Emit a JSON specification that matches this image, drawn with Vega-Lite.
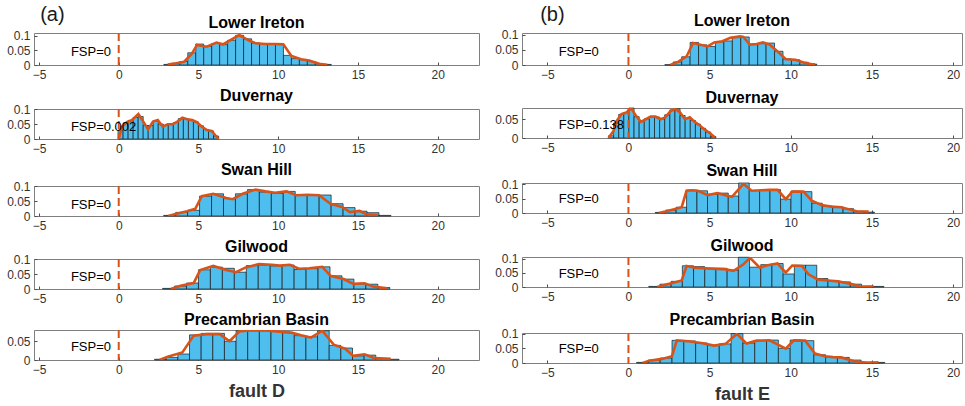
{
  "$schema": "https://vega.github.io/schema/vega-lite/v6.json",
  "background": "white",
  "padding": {"left": 6, "top": 5, "right": 0, "bottom": 0},
  "config": {
    "font": "Liberation Sans",
    "view": {"stroke": "#7f7f7f", "strokeWidth": 1},
    "axis": {"grid": false, "domain": false, "ticks": true, "tickSize": -3, "tickColor": "#4d4d4d", "labelPadding": 7, "labelFontSize": 12, "labelColor": "#333333", "labelFlush": false, "labelOverlap": false, "titleFontSize": 18, "titleFontWeight": "bold", "titleColor": "#333333", "titlePadding": 7},
    "title": {"fontSize": 16, "fontWeight": "bold", "color": "#000000", "offset": 0, "anchor": "middle", "frame": "group"}
  },
  "datasets": {
    "bins": [
      {"fault": "D", "unit": "Lower Ireton", "lo": 2.83, "hi": 3.33, "p": 0.002},
      {"fault": "D", "unit": "Lower Ireton", "lo": 3.33, "hi": 3.83, "p": 0.006},
      {"fault": "D", "unit": "Lower Ireton", "lo": 3.83, "hi": 4.33, "p": 0.012},
      {"fault": "D", "unit": "Lower Ireton", "lo": 4.33, "hi": 4.83, "p": 0.042},
      {"fault": "D", "unit": "Lower Ireton", "lo": 4.83, "hi": 5.33, "p": 0.072},
      {"fault": "D", "unit": "Lower Ireton", "lo": 5.33, "hi": 5.83, "p": 0.064},
      {"fault": "D", "unit": "Lower Ireton", "lo": 5.83, "hi": 6.33, "p": 0.074},
      {"fault": "D", "unit": "Lower Ireton", "lo": 6.33, "hi": 6.83, "p": 0.07},
      {"fault": "D", "unit": "Lower Ireton", "lo": 6.83, "hi": 7.33, "p": 0.085},
      {"fault": "D", "unit": "Lower Ireton", "lo": 7.33, "hi": 7.83, "p": 0.102},
      {"fault": "D", "unit": "Lower Ireton", "lo": 7.83, "hi": 8.33, "p": 0.09},
      {"fault": "D", "unit": "Lower Ireton", "lo": 8.33, "hi": 8.83, "p": 0.076},
      {"fault": "D", "unit": "Lower Ireton", "lo": 8.83, "hi": 9.33, "p": 0.073},
      {"fault": "D", "unit": "Lower Ireton", "lo": 9.33, "hi": 9.83, "p": 0.073},
      {"fault": "D", "unit": "Lower Ireton", "lo": 9.83, "hi": 10.33, "p": 0.072},
      {"fault": "D", "unit": "Lower Ireton", "lo": 10.33, "hi": 10.83, "p": 0.033},
      {"fault": "D", "unit": "Lower Ireton", "lo": 10.83, "hi": 11.33, "p": 0.022},
      {"fault": "D", "unit": "Lower Ireton", "lo": 11.33, "hi": 11.83, "p": 0.018},
      {"fault": "D", "unit": "Lower Ireton", "lo": 11.83, "hi": 12.33, "p": 0.012},
      {"fault": "D", "unit": "Lower Ireton", "lo": 12.33, "hi": 12.83, "p": 0.005},
      {"fault": "D", "unit": "Lower Ireton", "lo": 12.83, "hi": 13.33, "p": 0.002},

      {"fault": "D", "unit": "Duvernay", "lo": -0.04, "hi": 0.275, "p": 0.03},
      {"fault": "D", "unit": "Duvernay", "lo": 0.275, "hi": 0.59, "p": 0.053},
      {"fault": "D", "unit": "Duvernay", "lo": 0.59, "hi": 0.905, "p": 0.062},
      {"fault": "D", "unit": "Duvernay", "lo": 0.905, "hi": 1.22, "p": 0.072},
      {"fault": "D", "unit": "Duvernay", "lo": 1.22, "hi": 1.535, "p": 0.075},
      {"fault": "D", "unit": "Duvernay", "lo": 1.535, "hi": 1.85, "p": 0.045},
      {"fault": "D", "unit": "Duvernay", "lo": 1.85, "hi": 2.165, "p": 0.045},
      {"fault": "D", "unit": "Duvernay", "lo": 2.165, "hi": 2.48, "p": 0.06},
      {"fault": "D", "unit": "Duvernay", "lo": 2.48, "hi": 2.795, "p": 0.05},
      {"fault": "D", "unit": "Duvernay", "lo": 2.795, "hi": 3.11, "p": 0.045},
      {"fault": "D", "unit": "Duvernay", "lo": 3.11, "hi": 3.425, "p": 0.049},
      {"fault": "D", "unit": "Duvernay", "lo": 3.425, "hi": 3.74, "p": 0.055},
      {"fault": "D", "unit": "Duvernay", "lo": 3.74, "hi": 4.055, "p": 0.068},
      {"fault": "D", "unit": "Duvernay", "lo": 4.055, "hi": 4.37, "p": 0.068},
      {"fault": "D", "unit": "Duvernay", "lo": 4.37, "hi": 4.685, "p": 0.064},
      {"fault": "D", "unit": "Duvernay", "lo": 4.685, "hi": 5.0, "p": 0.057},
      {"fault": "D", "unit": "Duvernay", "lo": 5.0, "hi": 5.315, "p": 0.044},
      {"fault": "D", "unit": "Duvernay", "lo": 5.315, "hi": 5.63, "p": 0.032},
      {"fault": "D", "unit": "Duvernay", "lo": 5.63, "hi": 5.945, "p": 0.027},
      {"fault": "D", "unit": "Duvernay", "lo": 5.945, "hi": 6.26, "p": 0.01},

      {"fault": "D", "unit": "Swan Hill", "lo": 2.82, "hi": 3.57, "p": 0.002},
      {"fault": "D", "unit": "Swan Hill", "lo": 3.57, "hi": 4.32, "p": 0.012},
      {"fault": "D", "unit": "Swan Hill", "lo": 4.32, "hi": 5.07, "p": 0.019},
      {"fault": "D", "unit": "Swan Hill", "lo": 5.07, "hi": 5.82, "p": 0.066},
      {"fault": "D", "unit": "Swan Hill", "lo": 5.82, "hi": 6.57, "p": 0.074},
      {"fault": "D", "unit": "Swan Hill", "lo": 6.57, "hi": 7.32, "p": 0.058},
      {"fault": "D", "unit": "Swan Hill", "lo": 7.32, "hi": 8.07, "p": 0.074},
      {"fault": "D", "unit": "Swan Hill", "lo": 8.07, "hi": 8.82, "p": 0.088},
      {"fault": "D", "unit": "Swan Hill", "lo": 8.82, "hi": 9.57, "p": 0.08},
      {"fault": "D", "unit": "Swan Hill", "lo": 9.57, "hi": 10.32, "p": 0.075},
      {"fault": "D", "unit": "Swan Hill", "lo": 10.32, "hi": 11.07, "p": 0.082},
      {"fault": "D", "unit": "Swan Hill", "lo": 11.07, "hi": 11.82, "p": 0.069},
      {"fault": "D", "unit": "Swan Hill", "lo": 11.82, "hi": 12.57, "p": 0.071},
      {"fault": "D", "unit": "Swan Hill", "lo": 12.57, "hi": 13.32, "p": 0.07},
      {"fault": "D", "unit": "Swan Hill", "lo": 13.32, "hi": 14.07, "p": 0.041},
      {"fault": "D", "unit": "Swan Hill", "lo": 14.07, "hi": 14.82, "p": 0.028},
      {"fault": "D", "unit": "Swan Hill", "lo": 14.82, "hi": 15.57, "p": 0.016},
      {"fault": "D", "unit": "Swan Hill", "lo": 15.57, "hi": 16.32, "p": 0.011},
      {"fault": "D", "unit": "Swan Hill", "lo": 16.32, "hi": 17.07, "p": 0.002},

      {"fault": "D", "unit": "Gilwood", "lo": 2.75, "hi": 3.5, "p": 0.002},
      {"fault": "D", "unit": "Gilwood", "lo": 3.5, "hi": 4.25, "p": 0.01},
      {"fault": "D", "unit": "Gilwood", "lo": 4.25, "hi": 5.0, "p": 0.02},
      {"fault": "D", "unit": "Gilwood", "lo": 5.0, "hi": 5.75, "p": 0.064},
      {"fault": "D", "unit": "Gilwood", "lo": 5.75, "hi": 6.5, "p": 0.073},
      {"fault": "D", "unit": "Gilwood", "lo": 6.5, "hi": 7.25, "p": 0.069},
      {"fault": "D", "unit": "Gilwood", "lo": 7.25, "hi": 8.0, "p": 0.056},
      {"fault": "D", "unit": "Gilwood", "lo": 8.0, "hi": 8.75, "p": 0.078},
      {"fault": "D", "unit": "Gilwood", "lo": 8.75, "hi": 9.5, "p": 0.08},
      {"fault": "D", "unit": "Gilwood", "lo": 9.5, "hi": 10.25, "p": 0.077},
      {"fault": "D", "unit": "Gilwood", "lo": 10.25, "hi": 11.0, "p": 0.08},
      {"fault": "D", "unit": "Gilwood", "lo": 11.0, "hi": 11.75, "p": 0.065},
      {"fault": "D", "unit": "Gilwood", "lo": 11.75, "hi": 12.5, "p": 0.068},
      {"fault": "D", "unit": "Gilwood", "lo": 12.5, "hi": 13.25, "p": 0.074},
      {"fault": "D", "unit": "Gilwood", "lo": 13.25, "hi": 14.0, "p": 0.044},
      {"fault": "D", "unit": "Gilwood", "lo": 14.0, "hi": 14.75, "p": 0.033},
      {"fault": "D", "unit": "Gilwood", "lo": 14.75, "hi": 15.5, "p": 0.017},
      {"fault": "D", "unit": "Gilwood", "lo": 15.5, "hi": 16.25, "p": 0.016},
      {"fault": "D", "unit": "Gilwood", "lo": 16.25, "hi": 17.0, "p": 0.005},

      {"fault": "D", "unit": "Precambrian Basin", "lo": 2.25, "hi": 2.98, "p": 0.002},
      {"fault": "D", "unit": "Precambrian Basin", "lo": 2.98, "hi": 3.71, "p": 0.007},
      {"fault": "D", "unit": "Precambrian Basin", "lo": 3.71, "hi": 4.44, "p": 0.016},
      {"fault": "D", "unit": "Precambrian Basin", "lo": 4.44, "hi": 5.17, "p": 0.067},
      {"fault": "D", "unit": "Precambrian Basin", "lo": 5.17, "hi": 5.9, "p": 0.071},
      {"fault": "D", "unit": "Precambrian Basin", "lo": 5.9, "hi": 6.63, "p": 0.071},
      {"fault": "D", "unit": "Precambrian Basin", "lo": 6.63, "hi": 7.36, "p": 0.05},
      {"fault": "D", "unit": "Precambrian Basin", "lo": 7.36, "hi": 8.09, "p": 0.078},
      {"fault": "D", "unit": "Precambrian Basin", "lo": 8.09, "hi": 8.82, "p": 0.078},
      {"fault": "D", "unit": "Precambrian Basin", "lo": 8.82, "hi": 9.55, "p": 0.078},
      {"fault": "D", "unit": "Precambrian Basin", "lo": 9.55, "hi": 10.28, "p": 0.076},
      {"fault": "D", "unit": "Precambrian Basin", "lo": 10.28, "hi": 11.01, "p": 0.073},
      {"fault": "D", "unit": "Precambrian Basin", "lo": 11.01, "hi": 11.74, "p": 0.065},
      {"fault": "D", "unit": "Precambrian Basin", "lo": 11.74, "hi": 12.47, "p": 0.062},
      {"fault": "D", "unit": "Precambrian Basin", "lo": 12.47, "hi": 13.2, "p": 0.078},
      {"fault": "D", "unit": "Precambrian Basin", "lo": 13.2, "hi": 13.93, "p": 0.039},
      {"fault": "D", "unit": "Precambrian Basin", "lo": 13.93, "hi": 14.66, "p": 0.032},
      {"fault": "D", "unit": "Precambrian Basin", "lo": 14.66, "hi": 15.39, "p": 0.011},
      {"fault": "D", "unit": "Precambrian Basin", "lo": 15.39, "hi": 16.12, "p": 0.013},
      {"fault": "D", "unit": "Precambrian Basin", "lo": 16.12, "hi": 16.85, "p": 0.004},
      {"fault": "D", "unit": "Precambrian Basin", "lo": 16.85, "hi": 17.58, "p": 0.002},

      {"fault": "E", "unit": "Lower Ireton", "lo": 2.24, "hi": 2.76, "p": 0.001},
      {"fault": "E", "unit": "Lower Ireton", "lo": 2.76, "hi": 3.28, "p": 0.01},
      {"fault": "E", "unit": "Lower Ireton", "lo": 3.28, "hi": 3.8, "p": 0.027},
      {"fault": "E", "unit": "Lower Ireton", "lo": 3.8, "hi": 4.32, "p": 0.074},
      {"fault": "E", "unit": "Lower Ireton", "lo": 4.32, "hi": 4.84, "p": 0.066},
      {"fault": "E", "unit": "Lower Ireton", "lo": 4.84, "hi": 5.36, "p": 0.061},
      {"fault": "E", "unit": "Lower Ireton", "lo": 5.36, "hi": 5.88, "p": 0.076},
      {"fault": "E", "unit": "Lower Ireton", "lo": 5.88, "hi": 6.4, "p": 0.079},
      {"fault": "E", "unit": "Lower Ireton", "lo": 6.4, "hi": 6.92, "p": 0.09},
      {"fault": "E", "unit": "Lower Ireton", "lo": 6.92, "hi": 7.44, "p": 0.092},
      {"fault": "E", "unit": "Lower Ireton", "lo": 7.44, "hi": 7.96, "p": 0.067},
      {"fault": "E", "unit": "Lower Ireton", "lo": 7.96, "hi": 8.48, "p": 0.07},
      {"fault": "E", "unit": "Lower Ireton", "lo": 8.48, "hi": 9.0, "p": 0.072},
      {"fault": "E", "unit": "Lower Ireton", "lo": 9.0, "hi": 9.52, "p": 0.045},
      {"fault": "E", "unit": "Lower Ireton", "lo": 9.52, "hi": 10.04, "p": 0.02},
      {"fault": "E", "unit": "Lower Ireton", "lo": 10.04, "hi": 10.56, "p": 0.017},
      {"fault": "E", "unit": "Lower Ireton", "lo": 10.56, "hi": 11.08, "p": 0.009},
      {"fault": "E", "unit": "Lower Ireton", "lo": 11.08, "hi": 11.6, "p": 0.003},

      {"fault": "E", "unit": "Duvernay", "lo": -1.23, "hi": -0.915, "p": 0.006},
      {"fault": "E", "unit": "Duvernay", "lo": -0.915, "hi": -0.6, "p": 0.04},
      {"fault": "E", "unit": "Duvernay", "lo": -0.6, "hi": -0.285, "p": 0.063},
      {"fault": "E", "unit": "Duvernay", "lo": -0.285, "hi": 0.03, "p": 0.068},
      {"fault": "E", "unit": "Duvernay", "lo": 0.03, "hi": 0.345, "p": 0.08},
      {"fault": "E", "unit": "Duvernay", "lo": 0.345, "hi": 0.66, "p": 0.057},
      {"fault": "E", "unit": "Duvernay", "lo": 0.66, "hi": 0.975, "p": 0.044},
      {"fault": "E", "unit": "Duvernay", "lo": 0.975, "hi": 1.29, "p": 0.051},
      {"fault": "E", "unit": "Duvernay", "lo": 1.29, "hi": 1.605, "p": 0.057},
      {"fault": "E", "unit": "Duvernay", "lo": 1.605, "hi": 1.92, "p": 0.056},
      {"fault": "E", "unit": "Duvernay", "lo": 1.92, "hi": 2.235, "p": 0.051},
      {"fault": "E", "unit": "Duvernay", "lo": 2.235, "hi": 2.55, "p": 0.062},
      {"fault": "E", "unit": "Duvernay", "lo": 2.55, "hi": 2.865, "p": 0.075},
      {"fault": "E", "unit": "Duvernay", "lo": 2.865, "hi": 3.18, "p": 0.078},
      {"fault": "E", "unit": "Duvernay", "lo": 3.18, "hi": 3.495, "p": 0.06},
      {"fault": "E", "unit": "Duvernay", "lo": 3.495, "hi": 3.81, "p": 0.052},
      {"fault": "E", "unit": "Duvernay", "lo": 3.81, "hi": 4.125, "p": 0.047},
      {"fault": "E", "unit": "Duvernay", "lo": 4.125, "hi": 4.44, "p": 0.037},
      {"fault": "E", "unit": "Duvernay", "lo": 4.44, "hi": 4.755, "p": 0.026},
      {"fault": "E", "unit": "Duvernay", "lo": 4.755, "hi": 5.07, "p": 0.016},
      {"fault": "E", "unit": "Duvernay", "lo": 5.07, "hi": 5.385, "p": 0.004},

      {"fault": "E", "unit": "Swan Hill", "lo": 1.65, "hi": 2.29, "p": 0.002},
      {"fault": "E", "unit": "Swan Hill", "lo": 2.29, "hi": 2.94, "p": 0.01},
      {"fault": "E", "unit": "Swan Hill", "lo": 2.94, "hi": 3.58, "p": 0.02},
      {"fault": "E", "unit": "Swan Hill", "lo": 3.58, "hi": 4.22, "p": 0.079},
      {"fault": "E", "unit": "Swan Hill", "lo": 4.22, "hi": 4.87, "p": 0.077},
      {"fault": "E", "unit": "Swan Hill", "lo": 4.87, "hi": 5.51, "p": 0.065},
      {"fault": "E", "unit": "Swan Hill", "lo": 5.51, "hi": 6.15, "p": 0.069},
      {"fault": "E", "unit": "Swan Hill", "lo": 6.15, "hi": 6.79, "p": 0.059},
      {"fault": "E", "unit": "Swan Hill", "lo": 6.79, "hi": 7.44, "p": 0.104},
      {"fault": "E", "unit": "Swan Hill", "lo": 7.44, "hi": 8.08, "p": 0.078},
      {"fault": "E", "unit": "Swan Hill", "lo": 8.08, "hi": 8.72, "p": 0.08},
      {"fault": "E", "unit": "Swan Hill", "lo": 8.72, "hi": 9.37, "p": 0.081},
      {"fault": "E", "unit": "Swan Hill", "lo": 9.37, "hi": 10.01, "p": 0.048},
      {"fault": "E", "unit": "Swan Hill", "lo": 10.01, "hi": 10.65, "p": 0.076},
      {"fault": "E", "unit": "Swan Hill", "lo": 10.65, "hi": 11.3, "p": 0.074},
      {"fault": "E", "unit": "Swan Hill", "lo": 11.3, "hi": 11.94, "p": 0.034},
      {"fault": "E", "unit": "Swan Hill", "lo": 11.94, "hi": 12.58, "p": 0.024},
      {"fault": "E", "unit": "Swan Hill", "lo": 12.58, "hi": 13.22, "p": 0.021},
      {"fault": "E", "unit": "Swan Hill", "lo": 13.22, "hi": 13.87, "p": 0.015},
      {"fault": "E", "unit": "Swan Hill", "lo": 13.87, "hi": 14.51, "p": 0.006},
      {"fault": "E", "unit": "Swan Hill", "lo": 14.51, "hi": 15.15, "p": 0.003},

      {"fault": "E", "unit": "Gilwood", "lo": 1.25, "hi": 1.94, "p": 0.002},
      {"fault": "E", "unit": "Gilwood", "lo": 1.94, "hi": 2.63, "p": 0.01},
      {"fault": "E", "unit": "Gilwood", "lo": 2.63, "hi": 3.32, "p": 0.02},
      {"fault": "E", "unit": "Gilwood", "lo": 3.32, "hi": 4.01, "p": 0.075},
      {"fault": "E", "unit": "Gilwood", "lo": 4.01, "hi": 4.7, "p": 0.072},
      {"fault": "E", "unit": "Gilwood", "lo": 4.7, "hi": 5.39, "p": 0.066},
      {"fault": "E", "unit": "Gilwood", "lo": 5.39, "hi": 6.08, "p": 0.066},
      {"fault": "E", "unit": "Gilwood", "lo": 6.08, "hi": 6.77, "p": 0.06},
      {"fault": "E", "unit": "Gilwood", "lo": 6.77, "hi": 7.46, "p": 0.105},
      {"fault": "E", "unit": "Gilwood", "lo": 7.46, "hi": 8.15, "p": 0.07},
      {"fault": "E", "unit": "Gilwood", "lo": 8.15, "hi": 8.84, "p": 0.079},
      {"fault": "E", "unit": "Gilwood", "lo": 8.84, "hi": 9.53, "p": 0.083},
      {"fault": "E", "unit": "Gilwood", "lo": 9.53, "hi": 10.22, "p": 0.046},
      {"fault": "E", "unit": "Gilwood", "lo": 10.22, "hi": 10.91, "p": 0.077},
      {"fault": "E", "unit": "Gilwood", "lo": 10.91, "hi": 11.6, "p": 0.077},
      {"fault": "E", "unit": "Gilwood", "lo": 11.6, "hi": 12.29, "p": 0.03},
      {"fault": "E", "unit": "Gilwood", "lo": 12.29, "hi": 12.98, "p": 0.022},
      {"fault": "E", "unit": "Gilwood", "lo": 12.98, "hi": 13.67, "p": 0.018},
      {"fault": "E", "unit": "Gilwood", "lo": 13.67, "hi": 14.36, "p": 0.01},
      {"fault": "E", "unit": "Gilwood", "lo": 14.36, "hi": 15.05, "p": 0.003},
      {"fault": "E", "unit": "Gilwood", "lo": 15.05, "hi": 15.74, "p": 0.002},

      {"fault": "E", "unit": "Precambrian Basin", "lo": 0.5, "hi": 1.228, "p": 0.002},
      {"fault": "E", "unit": "Precambrian Basin", "lo": 1.228, "hi": 1.956, "p": 0.01},
      {"fault": "E", "unit": "Precambrian Basin", "lo": 1.956, "hi": 2.684, "p": 0.017},
      {"fault": "E", "unit": "Precambrian Basin", "lo": 2.684, "hi": 3.412, "p": 0.077},
      {"fault": "E", "unit": "Precambrian Basin", "lo": 3.412, "hi": 4.14, "p": 0.075},
      {"fault": "E", "unit": "Precambrian Basin", "lo": 4.14, "hi": 4.868, "p": 0.068},
      {"fault": "E", "unit": "Precambrian Basin", "lo": 4.868, "hi": 5.596, "p": 0.06},
      {"fault": "E", "unit": "Precambrian Basin", "lo": 5.596, "hi": 6.324, "p": 0.065},
      {"fault": "E", "unit": "Precambrian Basin", "lo": 6.324, "hi": 7.052, "p": 0.1},
      {"fault": "E", "unit": "Precambrian Basin", "lo": 7.052, "hi": 7.78, "p": 0.068},
      {"fault": "E", "unit": "Precambrian Basin", "lo": 7.78, "hi": 8.508, "p": 0.076},
      {"fault": "E", "unit": "Precambrian Basin", "lo": 8.508, "hi": 9.236, "p": 0.078},
      {"fault": "E", "unit": "Precambrian Basin", "lo": 9.236, "hi": 9.964, "p": 0.05},
      {"fault": "E", "unit": "Precambrian Basin", "lo": 9.964, "hi": 10.692, "p": 0.078},
      {"fault": "E", "unit": "Precambrian Basin", "lo": 10.692, "hi": 11.42, "p": 0.076},
      {"fault": "E", "unit": "Precambrian Basin", "lo": 11.42, "hi": 12.148, "p": 0.028},
      {"fault": "E", "unit": "Precambrian Basin", "lo": 12.148, "hi": 12.876, "p": 0.021},
      {"fault": "E", "unit": "Precambrian Basin", "lo": 12.876, "hi": 13.604, "p": 0.019},
      {"fault": "E", "unit": "Precambrian Basin", "lo": 13.604, "hi": 14.332, "p": 0.01},
      {"fault": "E", "unit": "Precambrian Basin", "lo": 14.332, "hi": 15.06, "p": 0.003},
      {"fault": "E", "unit": "Precambrian Basin", "lo": 15.06, "hi": 15.788, "p": 0.002}
    ],
    "curve": [
      {"fault": "D", "unit": "Lower Ireton", "x": 3.07, "p": 0.002},
      {"fault": "D", "unit": "Lower Ireton", "x": 3.6, "p": 0.006},
      {"fault": "D", "unit": "Lower Ireton", "x": 4.09, "p": 0.011},
      {"fault": "D", "unit": "Lower Ireton", "x": 4.6, "p": 0.04},
      {"fault": "D", "unit": "Lower Ireton", "x": 4.91, "p": 0.069},
      {"fault": "D", "unit": "Lower Ireton", "x": 5.52, "p": 0.063},
      {"fault": "D", "unit": "Lower Ireton", "x": 6.13, "p": 0.077},
      {"fault": "D", "unit": "Lower Ireton", "x": 6.54, "p": 0.071},
      {"fault": "D", "unit": "Lower Ireton", "x": 6.95, "p": 0.084},
      {"fault": "D", "unit": "Lower Ireton", "x": 7.56, "p": 0.103},
      {"fault": "D", "unit": "Lower Ireton", "x": 8.17, "p": 0.084},
      {"fault": "D", "unit": "Lower Ireton", "x": 8.58, "p": 0.075},
      {"fault": "D", "unit": "Lower Ireton", "x": 9.2, "p": 0.072},
      {"fault": "D", "unit": "Lower Ireton", "x": 9.81, "p": 0.072},
      {"fault": "D", "unit": "Lower Ireton", "x": 10.32, "p": 0.071},
      {"fault": "D", "unit": "Lower Ireton", "x": 10.83, "p": 0.031},
      {"fault": "D", "unit": "Lower Ireton", "x": 11.44, "p": 0.02},
      {"fault": "D", "unit": "Lower Ireton", "x": 11.95, "p": 0.015},
      {"fault": "D", "unit": "Lower Ireton", "x": 12.67, "p": 0.003},
      {"fault": "D", "unit": "Lower Ireton", "x": 13.08, "p": 0.001},

      {"fault": "D", "unit": "Duvernay", "x": 0.0, "p": 0.0},
      {"fault": "D", "unit": "Duvernay", "x": 0.2, "p": 0.041},
      {"fault": "D", "unit": "Duvernay", "x": 0.51, "p": 0.056},
      {"fault": "D", "unit": "Duvernay", "x": 0.82, "p": 0.063},
      {"fault": "D", "unit": "Duvernay", "x": 1.23, "p": 0.083},
      {"fault": "D", "unit": "Duvernay", "x": 1.54, "p": 0.058},
      {"fault": "D", "unit": "Duvernay", "x": 1.84, "p": 0.032},
      {"fault": "D", "unit": "Duvernay", "x": 2.15, "p": 0.058},
      {"fault": "D", "unit": "Duvernay", "x": 2.45, "p": 0.063},
      {"fault": "D", "unit": "Duvernay", "x": 2.76, "p": 0.041},
      {"fault": "D", "unit": "Duvernay", "x": 3.07, "p": 0.049},
      {"fault": "D", "unit": "Duvernay", "x": 3.37, "p": 0.049},
      {"fault": "D", "unit": "Duvernay", "x": 3.68, "p": 0.058},
      {"fault": "D", "unit": "Duvernay", "x": 3.99, "p": 0.071},
      {"fault": "D", "unit": "Duvernay", "x": 4.29, "p": 0.066},
      {"fault": "D", "unit": "Duvernay", "x": 4.6, "p": 0.063},
      {"fault": "D", "unit": "Duvernay", "x": 4.9, "p": 0.056},
      {"fault": "D", "unit": "Duvernay", "x": 5.21, "p": 0.041},
      {"fault": "D", "unit": "Duvernay", "x": 5.52, "p": 0.03},
      {"fault": "D", "unit": "Duvernay", "x": 5.82, "p": 0.027},
      {"fault": "D", "unit": "Duvernay", "x": 6.13, "p": 0.008},
      {"fault": "D", "unit": "Duvernay", "x": 6.27, "p": 0.0},

      {"fault": "D", "unit": "Swan Hill", "x": 3.1, "p": 0.0},
      {"fault": "D", "unit": "Swan Hill", "x": 3.68, "p": 0.008},
      {"fault": "D", "unit": "Swan Hill", "x": 4.29, "p": 0.016},
      {"fault": "D", "unit": "Swan Hill", "x": 4.8, "p": 0.024},
      {"fault": "D", "unit": "Swan Hill", "x": 5.21, "p": 0.066},
      {"fault": "D", "unit": "Swan Hill", "x": 5.93, "p": 0.074},
      {"fault": "D", "unit": "Swan Hill", "x": 6.74, "p": 0.06},
      {"fault": "D", "unit": "Swan Hill", "x": 7.15, "p": 0.056},
      {"fault": "D", "unit": "Swan Hill", "x": 7.77, "p": 0.074},
      {"fault": "D", "unit": "Swan Hill", "x": 8.58, "p": 0.088},
      {"fault": "D", "unit": "Swan Hill", "x": 9.2, "p": 0.082},
      {"fault": "D", "unit": "Swan Hill", "x": 9.8, "p": 0.077},
      {"fault": "D", "unit": "Swan Hill", "x": 10.52, "p": 0.082},
      {"fault": "D", "unit": "Swan Hill", "x": 11.14, "p": 0.069},
      {"fault": "D", "unit": "Swan Hill", "x": 11.85, "p": 0.071},
      {"fault": "D", "unit": "Swan Hill", "x": 12.57, "p": 0.069},
      {"fault": "D", "unit": "Swan Hill", "x": 13.28, "p": 0.041},
      {"fault": "D", "unit": "Swan Hill", "x": 14.0, "p": 0.03},
      {"fault": "D", "unit": "Swan Hill", "x": 14.5, "p": 0.013},
      {"fault": "D", "unit": "Swan Hill", "x": 15.1, "p": 0.017},
      {"fault": "D", "unit": "Swan Hill", "x": 15.53, "p": 0.006},
      {"fault": "D", "unit": "Swan Hill", "x": 16.24, "p": 0.002},

      {"fault": "D", "unit": "Gilwood", "x": 3.27, "p": 0.0},
      {"fault": "D", "unit": "Gilwood", "x": 3.88, "p": 0.011},
      {"fault": "D", "unit": "Gilwood", "x": 4.7, "p": 0.02},
      {"fault": "D", "unit": "Gilwood", "x": 5.11, "p": 0.063},
      {"fault": "D", "unit": "Gilwood", "x": 5.93, "p": 0.077},
      {"fault": "D", "unit": "Gilwood", "x": 6.74, "p": 0.063},
      {"fault": "D", "unit": "Gilwood", "x": 7.36, "p": 0.056},
      {"fault": "D", "unit": "Gilwood", "x": 7.97, "p": 0.072},
      {"fault": "D", "unit": "Gilwood", "x": 8.79, "p": 0.083},
      {"fault": "D", "unit": "Gilwood", "x": 9.6, "p": 0.081},
      {"fault": "D", "unit": "Gilwood", "x": 10.1, "p": 0.078},
      {"fault": "D", "unit": "Gilwood", "x": 10.73, "p": 0.081},
      {"fault": "D", "unit": "Gilwood", "x": 11.34, "p": 0.067},
      {"fault": "D", "unit": "Gilwood", "x": 11.95, "p": 0.069},
      {"fault": "D", "unit": "Gilwood", "x": 12.77, "p": 0.074},
      {"fault": "D", "unit": "Gilwood", "x": 13.28, "p": 0.044},
      {"fault": "D", "unit": "Gilwood", "x": 14.1, "p": 0.033},
      {"fault": "D", "unit": "Gilwood", "x": 14.71, "p": 0.017},
      {"fault": "D", "unit": "Gilwood", "x": 15.42, "p": 0.019},
      {"fault": "D", "unit": "Gilwood", "x": 15.94, "p": 0.008},
      {"fault": "D", "unit": "Gilwood", "x": 16.85, "p": 0.002},

      {"fault": "D", "unit": "Precambrian Basin", "x": 2.56, "p": 0.0},
      {"fault": "D", "unit": "Precambrian Basin", "x": 3.07, "p": 0.009},
      {"fault": "D", "unit": "Precambrian Basin", "x": 3.99, "p": 0.02},
      {"fault": "D", "unit": "Precambrian Basin", "x": 4.7, "p": 0.065},
      {"fault": "D", "unit": "Precambrian Basin", "x": 5.52, "p": 0.069},
      {"fault": "D", "unit": "Precambrian Basin", "x": 6.34, "p": 0.069},
      {"fault": "D", "unit": "Precambrian Basin", "x": 6.95, "p": 0.05},
      {"fault": "D", "unit": "Precambrian Basin", "x": 7.56, "p": 0.076},
      {"fault": "D", "unit": "Precambrian Basin", "x": 8.17, "p": 0.079},
      {"fault": "D", "unit": "Precambrian Basin", "x": 9.2, "p": 0.079},
      {"fault": "D", "unit": "Precambrian Basin", "x": 10.22, "p": 0.075},
      {"fault": "D", "unit": "Precambrian Basin", "x": 10.83, "p": 0.073},
      {"fault": "D", "unit": "Precambrian Basin", "x": 11.44, "p": 0.066},
      {"fault": "D", "unit": "Precambrian Basin", "x": 12.05, "p": 0.06},
      {"fault": "D", "unit": "Precambrian Basin", "x": 12.77, "p": 0.078},
      {"fault": "D", "unit": "Precambrian Basin", "x": 13.48, "p": 0.041},
      {"fault": "D", "unit": "Precambrian Basin", "x": 14.2, "p": 0.03},
      {"fault": "D", "unit": "Precambrian Basin", "x": 14.71, "p": 0.011},
      {"fault": "D", "unit": "Precambrian Basin", "x": 15.42, "p": 0.015},
      {"fault": "D", "unit": "Precambrian Basin", "x": 16.04, "p": 0.005},
      {"fault": "D", "unit": "Precambrian Basin", "x": 17.06, "p": 0.003},

      {"fault": "E", "unit": "Lower Ireton", "x": 2.58, "p": 0.0},
      {"fault": "E", "unit": "Lower Ireton", "x": 3.08, "p": 0.011},
      {"fault": "E", "unit": "Lower Ireton", "x": 3.58, "p": 0.028},
      {"fault": "E", "unit": "Lower Ireton", "x": 3.98, "p": 0.072},
      {"fault": "E", "unit": "Lower Ireton", "x": 4.38, "p": 0.067},
      {"fault": "E", "unit": "Lower Ireton", "x": 4.88, "p": 0.061},
      {"fault": "E", "unit": "Lower Ireton", "x": 5.28, "p": 0.074},
      {"fault": "E", "unit": "Lower Ireton", "x": 5.78, "p": 0.078},
      {"fault": "E", "unit": "Lower Ireton", "x": 6.28, "p": 0.089},
      {"fault": "E", "unit": "Lower Ireton", "x": 6.88, "p": 0.094},
      {"fault": "E", "unit": "Lower Ireton", "x": 7.08, "p": 0.092},
      {"fault": "E", "unit": "Lower Ireton", "x": 7.48, "p": 0.067},
      {"fault": "E", "unit": "Lower Ireton", "x": 7.89, "p": 0.069},
      {"fault": "E", "unit": "Lower Ireton", "x": 8.29, "p": 0.074},
      {"fault": "E", "unit": "Lower Ireton", "x": 8.69, "p": 0.067},
      {"fault": "E", "unit": "Lower Ireton", "x": 9.19, "p": 0.044},
      {"fault": "E", "unit": "Lower Ireton", "x": 9.69, "p": 0.019},
      {"fault": "E", "unit": "Lower Ireton", "x": 10.29, "p": 0.017},
      {"fault": "E", "unit": "Lower Ireton", "x": 10.79, "p": 0.008},
      {"fault": "E", "unit": "Lower Ireton", "x": 11.29, "p": 0.002},
      {"fault": "E", "unit": "Lower Ireton", "x": 11.49, "p": 0.002},

      {"fault": "E", "unit": "Duvernay", "x": -1.23, "p": 0.0},
      {"fault": "E", "unit": "Duvernay", "x": -0.93, "p": 0.018},
      {"fault": "E", "unit": "Duvernay", "x": -0.73, "p": 0.045},
      {"fault": "E", "unit": "Duvernay", "x": -0.43, "p": 0.064},
      {"fault": "E", "unit": "Duvernay", "x": -0.13, "p": 0.068},
      {"fault": "E", "unit": "Duvernay", "x": 0.17, "p": 0.079},
      {"fault": "E", "unit": "Duvernay", "x": 0.47, "p": 0.059},
      {"fault": "E", "unit": "Duvernay", "x": 0.77, "p": 0.043},
      {"fault": "E", "unit": "Duvernay", "x": 1.07, "p": 0.05},
      {"fault": "E", "unit": "Duvernay", "x": 1.37, "p": 0.057},
      {"fault": "E", "unit": "Duvernay", "x": 1.67, "p": 0.057},
      {"fault": "E", "unit": "Duvernay", "x": 1.97, "p": 0.05},
      {"fault": "E", "unit": "Duvernay", "x": 2.27, "p": 0.055},
      {"fault": "E", "unit": "Duvernay", "x": 2.58, "p": 0.071},
      {"fault": "E", "unit": "Duvernay", "x": 2.88, "p": 0.078},
      {"fault": "E", "unit": "Duvernay", "x": 3.18, "p": 0.068},
      {"fault": "E", "unit": "Duvernay", "x": 3.48, "p": 0.05},
      {"fault": "E", "unit": "Duvernay", "x": 3.78, "p": 0.055},
      {"fault": "E", "unit": "Duvernay", "x": 4.08, "p": 0.043},
      {"fault": "E", "unit": "Duvernay", "x": 4.38, "p": 0.034},
      {"fault": "E", "unit": "Duvernay", "x": 4.68, "p": 0.023},
      {"fault": "E", "unit": "Duvernay", "x": 4.98, "p": 0.014},
      {"fault": "E", "unit": "Duvernay", "x": 5.32, "p": 0.002},

      {"fault": "E", "unit": "Swan Hill", "x": 1.87, "p": 0.0},
      {"fault": "E", "unit": "Swan Hill", "x": 2.27, "p": 0.005},
      {"fault": "E", "unit": "Swan Hill", "x": 2.88, "p": 0.014},
      {"fault": "E", "unit": "Swan Hill", "x": 3.28, "p": 0.02},
      {"fault": "E", "unit": "Swan Hill", "x": 3.58, "p": 0.077},
      {"fault": "E", "unit": "Swan Hill", "x": 3.88, "p": 0.079},
      {"fault": "E", "unit": "Swan Hill", "x": 4.28, "p": 0.077},
      {"fault": "E", "unit": "Swan Hill", "x": 4.88, "p": 0.062},
      {"fault": "E", "unit": "Swan Hill", "x": 5.48, "p": 0.069},
      {"fault": "E", "unit": "Swan Hill", "x": 6.08, "p": 0.06},
      {"fault": "E", "unit": "Swan Hill", "x": 6.38, "p": 0.056},
      {"fault": "E", "unit": "Swan Hill", "x": 7.08, "p": 0.101},
      {"fault": "E", "unit": "Swan Hill", "x": 7.59, "p": 0.077},
      {"fault": "E", "unit": "Swan Hill", "x": 8.19, "p": 0.079},
      {"fault": "E", "unit": "Swan Hill", "x": 8.69, "p": 0.08},
      {"fault": "E", "unit": "Swan Hill", "x": 9.19, "p": 0.08},
      {"fault": "E", "unit": "Swan Hill", "x": 9.69, "p": 0.048},
      {"fault": "E", "unit": "Swan Hill", "x": 10.09, "p": 0.074},
      {"fault": "E", "unit": "Swan Hill", "x": 10.79, "p": 0.074},
      {"fault": "E", "unit": "Swan Hill", "x": 11.29, "p": 0.043},
      {"fault": "E", "unit": "Swan Hill", "x": 11.89, "p": 0.028},
      {"fault": "E", "unit": "Swan Hill", "x": 12.49, "p": 0.022},
      {"fault": "E", "unit": "Swan Hill", "x": 13.1, "p": 0.02},
      {"fault": "E", "unit": "Swan Hill", "x": 13.5, "p": 0.014},
      {"fault": "E", "unit": "Swan Hill", "x": 14.1, "p": 0.005},
      {"fault": "E", "unit": "Swan Hill", "x": 14.8, "p": 0.005},

      {"fault": "E", "unit": "Gilwood", "x": 1.77, "p": 0.0},
      {"fault": "E", "unit": "Gilwood", "x": 2.27, "p": 0.008},
      {"fault": "E", "unit": "Gilwood", "x": 2.88, "p": 0.017},
      {"fault": "E", "unit": "Gilwood", "x": 3.28, "p": 0.023},
      {"fault": "E", "unit": "Gilwood", "x": 3.58, "p": 0.074},
      {"fault": "E", "unit": "Gilwood", "x": 4.08, "p": 0.068},
      {"fault": "E", "unit": "Gilwood", "x": 5.08, "p": 0.065},
      {"fault": "E", "unit": "Gilwood", "x": 5.88, "p": 0.063},
      {"fault": "E", "unit": "Gilwood", "x": 6.48, "p": 0.057},
      {"fault": "E", "unit": "Gilwood", "x": 7.08, "p": 0.08},
      {"fault": "E", "unit": "Gilwood", "x": 7.49, "p": 0.103},
      {"fault": "E", "unit": "Gilwood", "x": 8.09, "p": 0.068},
      {"fault": "E", "unit": "Gilwood", "x": 8.49, "p": 0.076},
      {"fault": "E", "unit": "Gilwood", "x": 9.19, "p": 0.083},
      {"fault": "E", "unit": "Gilwood", "x": 9.69, "p": 0.051},
      {"fault": "E", "unit": "Gilwood", "x": 10.09, "p": 0.076},
      {"fault": "E", "unit": "Gilwood", "x": 10.69, "p": 0.074},
      {"fault": "E", "unit": "Gilwood", "x": 11.09, "p": 0.045},
      {"fault": "E", "unit": "Gilwood", "x": 11.69, "p": 0.026},
      {"fault": "E", "unit": "Gilwood", "x": 12.29, "p": 0.023},
      {"fault": "E", "unit": "Gilwood", "x": 12.89, "p": 0.02},
      {"fault": "E", "unit": "Gilwood", "x": 13.7, "p": 0.011},
      {"fault": "E", "unit": "Gilwood", "x": 14.3, "p": 0.001},
      {"fault": "E", "unit": "Gilwood", "x": 15.1, "p": 0.002},

      {"fault": "E", "unit": "Precambrian Basin", "x": 0.87, "p": 0.0},
      {"fault": "E", "unit": "Precambrian Basin", "x": 1.27, "p": 0.008},
      {"fault": "E", "unit": "Precambrian Basin", "x": 2.07, "p": 0.014},
      {"fault": "E", "unit": "Precambrian Basin", "x": 2.68, "p": 0.023},
      {"fault": "E", "unit": "Precambrian Basin", "x": 2.98, "p": 0.077},
      {"fault": "E", "unit": "Precambrian Basin", "x": 3.68, "p": 0.074},
      {"fault": "E", "unit": "Precambrian Basin", "x": 4.48, "p": 0.068},
      {"fault": "E", "unit": "Precambrian Basin", "x": 5.28, "p": 0.059},
      {"fault": "E", "unit": "Precambrian Basin", "x": 5.98, "p": 0.065},
      {"fault": "E", "unit": "Precambrian Basin", "x": 6.68, "p": 0.099},
      {"fault": "E", "unit": "Precambrian Basin", "x": 7.28, "p": 0.066},
      {"fault": "E", "unit": "Precambrian Basin", "x": 7.89, "p": 0.076},
      {"fault": "E", "unit": "Precambrian Basin", "x": 8.69, "p": 0.077},
      {"fault": "E", "unit": "Precambrian Basin", "x": 9.69, "p": 0.049},
      {"fault": "E", "unit": "Precambrian Basin", "x": 10.19, "p": 0.077},
      {"fault": "E", "unit": "Precambrian Basin", "x": 10.89, "p": 0.076},
      {"fault": "E", "unit": "Precambrian Basin", "x": 11.49, "p": 0.032},
      {"fault": "E", "unit": "Precambrian Basin", "x": 12.09, "p": 0.023},
      {"fault": "E", "unit": "Precambrian Basin", "x": 12.6, "p": 0.02},
      {"fault": "E", "unit": "Precambrian Basin", "x": 13.1, "p": 0.019},
      {"fault": "E", "unit": "Precambrian Basin", "x": 13.9, "p": 0.006},
      {"fault": "E", "unit": "Precambrian Basin", "x": 14.7, "p": 0.001},
      {"fault": "E", "unit": "Precambrian Basin", "x": 15.4, "p": 0.002}
    ],
    "fsp": [
      {"fault": "D", "unit": "Lower Ireton", "label": "FSP=0"},
      {"fault": "D", "unit": "Duvernay", "label": "FSP=0.002"},
      {"fault": "D", "unit": "Swan Hill", "label": "FSP=0"},
      {"fault": "D", "unit": "Gilwood", "label": "FSP=0"},
      {"fault": "D", "unit": "Precambrian Basin", "label": "FSP=0"},
      {"fault": "E", "unit": "Lower Ireton", "label": "FSP=0"},
      {"fault": "E", "unit": "Duvernay", "label": "FSP=0.138"},
      {"fault": "E", "unit": "Swan Hill", "label": "FSP=0"},
      {"fault": "E", "unit": "Gilwood", "label": "FSP=0"},
      {"fault": "E", "unit": "Precambrian Basin", "label": "FSP=0"}
    ]
  },
  "spacing": 14,
  "hconcat": [
    {
      "title": {"text": "(a)", "anchor": "start", "frame": "bounds", "fontSize": 20, "fontWeight": "normal", "color": "#1a1a1a", "offset": -10.7, "dx": 34},
      "spacing": 6,
      "vconcat": [
        {
          "title": {"text": "Lower Ireton", "offset": -0.9}, "width": 445, "height": 32,
          "layer": [
            {"data": {"name": "bins"}, "transform": [{"filter": "datum.fault == 'D' && datum.unit == 'Lower Ireton'"}],
             "mark": {"type": "bar", "orient": "vertical", "fill": "#4DBEEE", "stroke": "#1a1a1a", "strokeWidth": 0.7},
             "encoding": {
               "x": {"field": "lo", "type": "quantitative", "title": null, "scale": {"domain": [-5, 22.28], "nice": false, "zero": false}, "axis": {"values": [-5, 0, 5, 10, 15, 20], "labelFlush": false, "labelOverlap": false}},
               "x2": {"field": "hi"},
               "y": {"field": "p", "type": "quantitative", "title": null, "scale": {"domain": [0, 0.11], "nice": false}, "axis": {"values": [0, 0.05, 0.1], "tickCount": 5, "format": "~g", "labelFlush": false, "labelOverlap": false}},
               "y2": {"datum": 0}}},
            {"data": {"name": "curve"}, "transform": [{"filter": "datum.fault == 'D' && datum.unit == 'Lower Ireton'"}],
             "mark": {"type": "line", "color": "#D95319", "strokeWidth": 2.6, "clip": true},
             "encoding": {
               "x": {"field": "x", "type": "quantitative", "title": null, "scale": {"domain": [-5, 22.28], "nice": false, "zero": false}},
               "y": {"field": "p", "type": "quantitative", "title": null, "scale": {"domain": [0, 0.11], "nice": false}}}},
            {"data": {"name": "fsp"}, "transform": [{"filter": "datum.fault == 'D' && datum.unit == 'Lower Ireton'"}],
             "mark": {"type": "rule", "color": "#D95319", "strokeWidth": 2, "strokeDash": [8, 4]},
             "encoding": {"x": {"datum": 0}}},
            {"data": {"name": "fsp"}, "transform": [{"filter": "datum.fault == 'D' && datum.unit == 'Lower Ireton'"}],
             "mark": {"type": "text", "align": "left", "baseline": "middle", "fontSize": 13, "color": "#000000"},
             "encoding": {"x": {"datum": -3}, "y": {"datum": 0.046}, "text": {"field": "label"}}}
          ]
        },
        {
          "title": {"text": "Duvernay", "offset": -1.2}, "width": 445, "height": 30,
          "layer": [
            {"data": {"name": "bins"}, "transform": [{"filter": "datum.fault == 'D' && datum.unit == 'Duvernay'"}],
             "mark": {"type": "bar", "orient": "vertical", "fill": "#4DBEEE", "stroke": "#1a1a1a", "strokeWidth": 0.7},
             "encoding": {
               "x": {"field": "lo", "type": "quantitative", "title": null, "scale": {"domain": [-5, 22.28], "nice": false, "zero": false}, "axis": {"values": [-5, 0, 5, 10, 15, 20], "labelFlush": false, "labelOverlap": false}},
               "x2": {"field": "hi"},
               "y": {"field": "p", "type": "quantitative", "title": null, "scale": {"domain": [0, 0.1], "nice": false}, "axis": {"values": [0, 0.05, 0.1], "tickCount": 5, "format": "~g", "labelFlush": false, "labelOverlap": false}},
               "y2": {"datum": 0}}},
            {"data": {"name": "curve"}, "transform": [{"filter": "datum.fault == 'D' && datum.unit == 'Duvernay'"}],
             "mark": {"type": "line", "color": "#D95319", "strokeWidth": 2.6, "clip": true},
             "encoding": {
               "x": {"field": "x", "type": "quantitative", "title": null, "scale": {"domain": [-5, 22.28], "nice": false, "zero": false}},
               "y": {"field": "p", "type": "quantitative", "title": null, "scale": {"domain": [0, 0.1], "nice": false}}}},
            {"data": {"name": "fsp"}, "transform": [{"filter": "datum.fault == 'D' && datum.unit == 'Duvernay'"}],
             "mark": {"type": "rule", "color": "#D95319", "strokeWidth": 2, "strokeDash": [8, 4]},
             "encoding": {"x": {"datum": 0}}},
            {"data": {"name": "fsp"}, "transform": [{"filter": "datum.fault == 'D' && datum.unit == 'Duvernay'"}],
             "mark": {"type": "text", "align": "left", "baseline": "middle", "fontSize": 13, "color": "#000000"},
             "encoding": {"x": {"datum": -3}, "y": {"datum": 0.039}, "text": {"field": "label"}}}
          ]
        },
        {
          "title": {"text": "Swan Hill", "offset": 2.3}, "width": 445, "height": 30,
          "layer": [
            {"data": {"name": "bins"}, "transform": [{"filter": "datum.fault == 'D' && datum.unit == 'Swan Hill'"}],
             "mark": {"type": "bar", "orient": "vertical", "fill": "#4DBEEE", "stroke": "#1a1a1a", "strokeWidth": 0.7},
             "encoding": {
               "x": {"field": "lo", "type": "quantitative", "title": null, "scale": {"domain": [-5, 22.28], "nice": false, "zero": false}, "axis": {"values": [-5, 0, 5, 10, 15, 20], "labelFlush": false, "labelOverlap": false}},
               "x2": {"field": "hi"},
               "y": {"field": "p", "type": "quantitative", "title": null, "scale": {"domain": [0, 0.1], "nice": false}, "axis": {"values": [0, 0.05, 0.1], "tickCount": 5, "format": "~g", "labelFlush": false, "labelOverlap": false}},
               "y2": {"datum": 0}}},
            {"data": {"name": "curve"}, "transform": [{"filter": "datum.fault == 'D' && datum.unit == 'Swan Hill'"}],
             "mark": {"type": "line", "color": "#D95319", "strokeWidth": 2.6, "clip": true},
             "encoding": {
               "x": {"field": "x", "type": "quantitative", "title": null, "scale": {"domain": [-5, 22.28], "nice": false, "zero": false}},
               "y": {"field": "p", "type": "quantitative", "title": null, "scale": {"domain": [0, 0.1], "nice": false}}}},
            {"data": {"name": "fsp"}, "transform": [{"filter": "datum.fault == 'D' && datum.unit == 'Swan Hill'"}],
             "mark": {"type": "rule", "color": "#D95319", "strokeWidth": 2, "strokeDash": [8, 4]},
             "encoding": {"x": {"datum": 0}}},
            {"data": {"name": "fsp"}, "transform": [{"filter": "datum.fault == 'D' && datum.unit == 'Swan Hill'"}],
             "mark": {"type": "text", "align": "left", "baseline": "middle", "fontSize": 13, "color": "#000000"},
             "encoding": {"x": {"datum": -3}, "y": {"datum": 0.038}, "text": {"field": "label"}}}
          ]
        },
        {
          "title": {"text": "Gilwood", "offset": -1.7}, "width": 445, "height": 30,
          "layer": [
            {"data": {"name": "bins"}, "transform": [{"filter": "datum.fault == 'D' && datum.unit == 'Gilwood'"}],
             "mark": {"type": "bar", "orient": "vertical", "fill": "#4DBEEE", "stroke": "#1a1a1a", "strokeWidth": 0.7},
             "encoding": {
               "x": {"field": "lo", "type": "quantitative", "title": null, "scale": {"domain": [-5, 22.28], "nice": false, "zero": false}, "axis": {"values": [-5, 0, 5, 10, 15, 20], "labelFlush": false, "labelOverlap": false}},
               "x2": {"field": "hi"},
               "y": {"field": "p", "type": "quantitative", "title": null, "scale": {"domain": [0, 0.1], "nice": false}, "axis": {"values": [0, 0.05, 0.1], "tickCount": 5, "format": "~g", "labelFlush": false, "labelOverlap": false}},
               "y2": {"datum": 0}}},
            {"data": {"name": "curve"}, "transform": [{"filter": "datum.fault == 'D' && datum.unit == 'Gilwood'"}],
             "mark": {"type": "line", "color": "#D95319", "strokeWidth": 2.6, "clip": true},
             "encoding": {
               "x": {"field": "x", "type": "quantitative", "title": null, "scale": {"domain": [-5, 22.28], "nice": false, "zero": false}},
               "y": {"field": "p", "type": "quantitative", "title": null, "scale": {"domain": [0, 0.1], "nice": false}}}},
            {"data": {"name": "fsp"}, "transform": [{"filter": "datum.fault == 'D' && datum.unit == 'Gilwood'"}],
             "mark": {"type": "rule", "color": "#D95319", "strokeWidth": 2, "strokeDash": [8, 4]},
             "encoding": {"x": {"datum": 0}}},
            {"data": {"name": "fsp"}, "transform": [{"filter": "datum.fault == 'D' && datum.unit == 'Gilwood'"}],
             "mark": {"type": "text", "align": "left", "baseline": "middle", "fontSize": 13, "color": "#000000"},
             "encoding": {"x": {"datum": -3}, "y": {"datum": 0.041}, "text": {"field": "label"}}}
          ]
        },
        {
          "title": {"text": "Precambrian Basin", "offset": 1.3}, "width": 445, "height": 30,
          "layer": [
            {"data": {"name": "bins"}, "transform": [{"filter": "datum.fault == 'D' && datum.unit == 'Precambrian Basin'"}],
             "mark": {"type": "bar", "orient": "vertical", "fill": "#4DBEEE", "stroke": "#1a1a1a", "strokeWidth": 0.7},
             "encoding": {
               "x": {"field": "lo", "type": "quantitative", "title": "fault D", "scale": {"domain": [-5, 22.28], "nice": false, "zero": false}, "axis": {"values": [-5, 0, 5, 10, 15, 20], "labelFlush": false, "labelOverlap": false}},
               "x2": {"field": "hi"},
               "y": {"field": "p", "type": "quantitative", "title": null, "scale": {"domain": [0, 0.08], "nice": false}, "axis": {"values": [0, 0.05], "tickCount": 5, "format": "~g", "labelFlush": false, "labelOverlap": false}},
               "y2": {"datum": 0}}},
            {"data": {"name": "curve"}, "transform": [{"filter": "datum.fault == 'D' && datum.unit == 'Precambrian Basin'"}],
             "mark": {"type": "line", "color": "#D95319", "strokeWidth": 2.6, "clip": true},
             "encoding": {
               "x": {"field": "x", "type": "quantitative", "title": "fault D", "scale": {"domain": [-5, 22.28], "nice": false, "zero": false}},
               "y": {"field": "p", "type": "quantitative", "title": null, "scale": {"domain": [0, 0.08], "nice": false}}}},
            {"data": {"name": "fsp"}, "transform": [{"filter": "datum.fault == 'D' && datum.unit == 'Precambrian Basin'"}],
             "mark": {"type": "rule", "color": "#D95319", "strokeWidth": 2, "strokeDash": [8, 4]},
             "encoding": {"x": {"datum": 0}}},
            {"data": {"name": "fsp"}, "transform": [{"filter": "datum.fault == 'D' && datum.unit == 'Precambrian Basin'"}],
             "mark": {"type": "text", "align": "left", "baseline": "middle", "fontSize": 13, "color": "#000000"},
             "encoding": {"x": {"datum": -3}, "y": {"datum": 0.034}, "text": {"field": "label"}}}
          ]
        }
      ]
    },
    {
      "title": {"text": "(b)", "anchor": "start", "frame": "bounds", "fontSize": 20, "fontWeight": "normal", "color": "#1a1a1a", "offset": -12.3, "dx": 46},
      "spacing": 8,
      "vconcat": [
        {
          "title": {"text": "Lower Ireton", "offset": -0.7}, "width": 440, "height": 32,
          "layer": [
            {"data": {"name": "bins"}, "transform": [{"filter": "datum.fault == 'E' && datum.unit == 'Lower Ireton'"}],
             "mark": {"type": "bar", "orient": "vertical", "fill": "#4DBEEE", "stroke": "#1a1a1a", "strokeWidth": 0.7},
             "encoding": {
               "x": {"field": "lo", "type": "quantitative", "title": null, "scale": {"domain": [-6.25, 20.24], "nice": false, "zero": false}, "axis": {"values": [-5, 0, 5, 10, 15, 20], "labelFlush": 5, "labelOverlap": false}},
               "x2": {"field": "hi"},
               "y": {"field": "p", "type": "quantitative", "title": null, "scale": {"domain": [0, 0.105], "nice": false}, "axis": {"values": [0, 0.05, 0.1], "tickCount": 5, "format": "~g", "labelFlush": false, "labelOverlap": false}},
               "y2": {"datum": 0}}},
            {"data": {"name": "curve"}, "transform": [{"filter": "datum.fault == 'E' && datum.unit == 'Lower Ireton'"}],
             "mark": {"type": "line", "color": "#D95319", "strokeWidth": 2.6, "clip": true},
             "encoding": {
               "x": {"field": "x", "type": "quantitative", "title": null, "scale": {"domain": [-6.25, 20.24], "nice": false, "zero": false}},
               "y": {"field": "p", "type": "quantitative", "title": null, "scale": {"domain": [0, 0.105], "nice": false}}}},
            {"data": {"name": "fsp"}, "transform": [{"filter": "datum.fault == 'E' && datum.unit == 'Lower Ireton'"}],
             "mark": {"type": "rule", "color": "#D95319", "strokeWidth": 2, "strokeDash": [8, 4]},
             "encoding": {"x": {"datum": 0}}},
            {"data": {"name": "fsp"}, "transform": [{"filter": "datum.fault == 'E' && datum.unit == 'Lower Ireton'"}],
             "mark": {"type": "text", "align": "left", "baseline": "middle", "fontSize": 13, "color": "#000000"},
             "encoding": {"x": {"datum": -4.3}, "y": {"datum": 0.044}, "text": {"field": "label"}}}
          ]
        },
        {
          "title": {"text": "Duvernay", "offset": 0.8}, "width": 440, "height": 30,
          "layer": [
            {"data": {"name": "bins"}, "transform": [{"filter": "datum.fault == 'E' && datum.unit == 'Duvernay'"}],
             "mark": {"type": "bar", "orient": "vertical", "fill": "#4DBEEE", "stroke": "#1a1a1a", "strokeWidth": 0.7},
             "encoding": {
               "x": {"field": "lo", "type": "quantitative", "title": null, "scale": {"domain": [-6.25, 20.24], "nice": false, "zero": false}, "axis": {"values": [-5, 0, 5, 10, 15, 20], "labelFlush": 5, "labelOverlap": false}},
               "x2": {"field": "hi"},
               "y": {"field": "p", "type": "quantitative", "title": null, "scale": {"domain": [0, 0.08], "nice": false}, "axis": {"values": [0, 0.05], "tickCount": 5, "format": "~g", "labelFlush": false, "labelOverlap": false}},
               "y2": {"datum": 0}}},
            {"data": {"name": "curve"}, "transform": [{"filter": "datum.fault == 'E' && datum.unit == 'Duvernay'"}],
             "mark": {"type": "line", "color": "#D95319", "strokeWidth": 2.6, "clip": true},
             "encoding": {
               "x": {"field": "x", "type": "quantitative", "title": null, "scale": {"domain": [-6.25, 20.24], "nice": false, "zero": false}},
               "y": {"field": "p", "type": "quantitative", "title": null, "scale": {"domain": [0, 0.08], "nice": false}}}},
            {"data": {"name": "fsp"}, "transform": [{"filter": "datum.fault == 'E' && datum.unit == 'Duvernay'"}],
             "mark": {"type": "rule", "color": "#D95319", "strokeWidth": 2, "strokeDash": [8, 4]},
             "encoding": {"x": {"datum": 0}}},
            {"data": {"name": "fsp"}, "transform": [{"filter": "datum.fault == 'E' && datum.unit == 'Duvernay'"}],
             "mark": {"type": "text", "align": "left", "baseline": "middle", "fontSize": 13, "color": "#000000"},
             "encoding": {"x": {"datum": -4.3}, "y": {"datum": 0.036}, "text": {"field": "label"}}}
          ]
        },
        {
          "title": {"text": "Swan Hill", "offset": -0.7}, "width": 440, "height": 30,
          "layer": [
            {"data": {"name": "bins"}, "transform": [{"filter": "datum.fault == 'E' && datum.unit == 'Swan Hill'"}],
             "mark": {"type": "bar", "orient": "vertical", "fill": "#4DBEEE", "stroke": "#1a1a1a", "strokeWidth": 0.7},
             "encoding": {
               "x": {"field": "lo", "type": "quantitative", "title": null, "scale": {"domain": [-6.25, 20.24], "nice": false, "zero": false}, "axis": {"values": [-5, 0, 5, 10, 15, 20], "labelFlush": 5, "labelOverlap": false}},
               "x2": {"field": "hi"},
               "y": {"field": "p", "type": "quantitative", "title": null, "scale": {"domain": [0, 0.104], "nice": false}, "axis": {"values": [0, 0.05, 0.1], "tickCount": 5, "format": "~g", "labelFlush": false, "labelOverlap": false}},
               "y2": {"datum": 0}}},
            {"data": {"name": "curve"}, "transform": [{"filter": "datum.fault == 'E' && datum.unit == 'Swan Hill'"}],
             "mark": {"type": "line", "color": "#D95319", "strokeWidth": 2.6, "clip": true},
             "encoding": {
               "x": {"field": "x", "type": "quantitative", "title": null, "scale": {"domain": [-6.25, 20.24], "nice": false, "zero": false}},
               "y": {"field": "p", "type": "quantitative", "title": null, "scale": {"domain": [0, 0.104], "nice": false}}}},
            {"data": {"name": "fsp"}, "transform": [{"filter": "datum.fault == 'E' && datum.unit == 'Swan Hill'"}],
             "mark": {"type": "rule", "color": "#D95319", "strokeWidth": 2, "strokeDash": [8, 4]},
             "encoding": {"x": {"datum": 0}}},
            {"data": {"name": "fsp"}, "transform": [{"filter": "datum.fault == 'E' && datum.unit == 'Swan Hill'"}],
             "mark": {"type": "text", "align": "left", "baseline": "middle", "fontSize": 13, "color": "#000000"},
             "encoding": {"x": {"datum": -4.3}, "y": {"datum": 0.048}, "text": {"field": "label"}}}
          ]
        },
        {
          "title": {"text": "Gilwood", "offset": -1.7}, "width": 440, "height": 30,
          "layer": [
            {"data": {"name": "bins"}, "transform": [{"filter": "datum.fault == 'E' && datum.unit == 'Gilwood'"}],
             "mark": {"type": "bar", "orient": "vertical", "fill": "#4DBEEE", "stroke": "#1a1a1a", "strokeWidth": 0.7},
             "encoding": {
               "x": {"field": "lo", "type": "quantitative", "title": null, "scale": {"domain": [-6.25, 20.24], "nice": false, "zero": false}, "axis": {"values": [-5, 0, 5, 10, 15, 20], "labelFlush": 5, "labelOverlap": false}},
               "x2": {"field": "hi"},
               "y": {"field": "p", "type": "quantitative", "title": null, "scale": {"domain": [0, 0.106], "nice": false}, "axis": {"values": [0, 0.05, 0.1], "tickCount": 5, "format": "~g", "labelFlush": false, "labelOverlap": false}},
               "y2": {"datum": 0}}},
            {"data": {"name": "curve"}, "transform": [{"filter": "datum.fault == 'E' && datum.unit == 'Gilwood'"}],
             "mark": {"type": "line", "color": "#D95319", "strokeWidth": 2.6, "clip": true},
             "encoding": {
               "x": {"field": "x", "type": "quantitative", "title": null, "scale": {"domain": [-6.25, 20.24], "nice": false, "zero": false}},
               "y": {"field": "p", "type": "quantitative", "title": null, "scale": {"domain": [0, 0.106], "nice": false}}}},
            {"data": {"name": "fsp"}, "transform": [{"filter": "datum.fault == 'E' && datum.unit == 'Gilwood'"}],
             "mark": {"type": "rule", "color": "#D95319", "strokeWidth": 2, "strokeDash": [8, 4]},
             "encoding": {"x": {"datum": 0}}},
            {"data": {"name": "fsp"}, "transform": [{"filter": "datum.fault == 'E' && datum.unit == 'Gilwood'"}],
             "mark": {"type": "text", "align": "left", "baseline": "middle", "fontSize": 13, "color": "#000000"},
             "encoding": {"x": {"datum": -4.3}, "y": {"datum": 0.047}, "text": {"field": "label"}}}
          ]
        },
        {
          "title": {"text": "Precambrian Basin", "offset": -0.7}, "width": 440, "height": 30,
          "layer": [
            {"data": {"name": "bins"}, "transform": [{"filter": "datum.fault == 'E' && datum.unit == 'Precambrian Basin'"}],
             "mark": {"type": "bar", "orient": "vertical", "fill": "#4DBEEE", "stroke": "#1a1a1a", "strokeWidth": 0.7},
             "encoding": {
               "x": {"field": "lo", "type": "quantitative", "title": "fault E", "scale": {"domain": [-6.25, 20.24], "nice": false, "zero": false}, "axis": {"values": [-5, 0, 5, 10, 15, 20], "labelFlush": 5, "labelOverlap": false}},
               "x2": {"field": "hi"},
               "y": {"field": "p", "type": "quantitative", "title": null, "scale": {"domain": [0, 0.102], "nice": false}, "axis": {"values": [0, 0.05, 0.1], "tickCount": 5, "format": "~g", "labelFlush": false, "labelOverlap": false}},
               "y2": {"datum": 0}}},
            {"data": {"name": "curve"}, "transform": [{"filter": "datum.fault == 'E' && datum.unit == 'Precambrian Basin'"}],
             "mark": {"type": "line", "color": "#D95319", "strokeWidth": 2.6, "clip": true},
             "encoding": {
               "x": {"field": "x", "type": "quantitative", "title": "fault E", "scale": {"domain": [-6.25, 20.24], "nice": false, "zero": false}},
               "y": {"field": "p", "type": "quantitative", "title": null, "scale": {"domain": [0, 0.102], "nice": false}}}},
            {"data": {"name": "fsp"}, "transform": [{"filter": "datum.fault == 'E' && datum.unit == 'Precambrian Basin'"}],
             "mark": {"type": "rule", "color": "#D95319", "strokeWidth": 2, "strokeDash": [8, 4]},
             "encoding": {"x": {"datum": 0}}},
            {"data": {"name": "fsp"}, "transform": [{"filter": "datum.fault == 'E' && datum.unit == 'Precambrian Basin'"}],
             "mark": {"type": "text", "align": "left", "baseline": "middle", "fontSize": 13, "color": "#000000"},
             "encoding": {"x": {"datum": -4.3}, "y": {"datum": 0.046}, "text": {"field": "label"}}}
          ]
        }
      ]
    }
  ]
}
